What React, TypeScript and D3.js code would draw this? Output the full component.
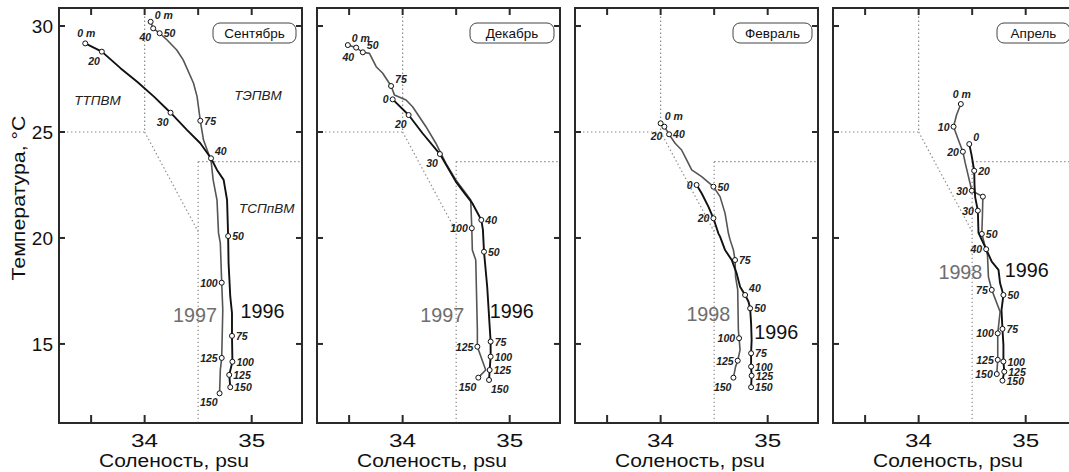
import React from "react";
import * as d3 from "d3";

// [salinity, temperature, depth label, label side]
type Pt = [number, number, string?, string?];

const months = ["Сентябрь", "Декабрь", "Февраль", "Апрель"];
const laterYears = ["1997", "1997", "1998", "1998"];
const baseYear = "1996";

const sep96: Pt[] = [
  [33.445, 29.18, "0 m", "t"], [33.6, 28.79, "20", "bl"], [33.777, 28.0], [33.93, 27.37],
  [34.087, 26.67], [34.242, 25.91, "30", "bl"], [34.397, 25.09], [34.52, 24.47],
  [34.62, 23.76, "40", "tr"], [34.676, 23.21], [34.738, 22.74], [34.77, 21.79],
  [34.78, 20.09, "50", "r"], [34.784, 18.82], [34.8, 17.23], [34.816, 16.46],
  [34.816, 15.38, "75", "r"], [34.82, 14.16, "100", "r"], [34.79, 13.54, "125", "r"],
  [34.8, 12.96, "150", "r"],
];
const sep97: Pt[] = [
  [34.056, 30.2, "0 m", "tr"], [34.08, 29.89, "40", "bl"], [34.14, 29.66, "50", "r"],
  [34.21, 29.34], [34.3, 28.87], [34.36, 28.4], [34.456, 27.31], [34.49, 26.67],
  [34.52, 25.53, "75", "r"], [34.55, 24.62], [34.595, 24.0], [34.62, 23.68],
  [34.64, 22.74], [34.676, 21.79], [34.69, 20.24], [34.707, 19.76],
  [34.72, 17.89, "100", "l"], [34.73, 16.6], [34.72, 14.34, "125", "l"], [34.707, 13.77],
  [34.7, 12.67, "150", "bl"],
];
const dec96: Pt[] = [
  [33.907, 26.54, "0", "l"], [34.056, 25.8, "20", "bl"], [34.186, 24.94],
  [34.348, 23.96, "30", "bl"], [34.497, 22.66], [34.59, 22.03], [34.651, 21.64],
  [34.735, 20.85, "40", "r"], [34.75, 20.38], [34.76, 19.35, "50", "r"], [34.79, 17.7],
  [34.813, 15.82], [34.822, 15.11, "75", "r"], [34.822, 14.4, "100", "r"],
  [34.813, 13.77, "125", "r"], [34.807, 13.3, "150", "br"],
];
const dec97: Pt[] = [
  [33.488, 29.1, "0 m", "tr"], [33.566, 28.98, "40", "bl"], [33.628, 28.76, "50", "tr"],
  [33.69, 28.71], [33.753, 28.08], [33.814, 27.77], [33.892, 27.17, "75", "tr"],
  [33.923, 26.75], [34.032, 26.51], [34.093, 26.19], [34.218, 25.25], [34.31, 24.47],
  [34.404, 23.52], [34.497, 22.74], [34.59, 22.11], [34.636, 21.79],
  [34.646, 20.46, "100", "l"], [34.651, 19.43], [34.683, 18.96], [34.698, 15.66],
  [34.698, 14.87, "125", "l"], [34.776, 13.77], [34.707, 13.41, "150", "bl"],
];
const feb96: Pt[] = [
  [34.336, 22.5, "0", "l"], [34.383, 22.11], [34.446, 21.48], [34.493, 20.93, "20", "l"],
  [34.539, 20.22], [34.555, 20.06], [34.602, 19.43], [34.664, 18.96], [34.71, 18.33],
  [34.742, 17.7], [34.789, 17.31, "40", "tr"], [34.82, 17.0], [34.836, 16.68, "50", "r"],
  [34.845, 15.98], [34.85, 15.19], [34.845, 14.56, "75", "r"], [34.845, 13.93, "100", "r"],
  [34.85, 13.5, "125", "r"], [34.845, 12.96, "150", "r"],
];
const feb98: Pt[] = [
  [34.0, 25.41, "0 m", "tr"], [34.035, 25.25, "20", "bl"], [34.079, 24.89, "40", "r"],
  [34.135, 24.47], [34.196, 24.15], [34.243, 23.68], [34.29, 23.21], [34.383, 22.89],
  [34.493, 22.42, "50", "r"], [34.555, 21.95], [34.602, 21.16], [34.633, 20.22],
  [34.649, 19.91], [34.68, 19.43], [34.695, 18.96, "75", "r"], [34.7, 18.17],
  [34.72, 17.55], [34.726, 15.66], [34.733, 15.27, "100", "l"], [34.742, 14.72],
  [34.72, 14.21, "125", "l"], [34.7, 13.93], [34.68, 13.41, "150", "bl"],
];
const apr96: Pt[] = [
  [34.473, 24.43, "0", "tr"], [34.494, 23.92], [34.519, 23.17, "20", "r"], [34.522, 22.5],
  [34.528, 21.93], [34.553, 21.29, "30", "l"], [34.559, 20.24], [34.631, 19.47, "40", "l"],
  [34.683, 18.88], [34.746, 18.49], [34.761, 17.86], [34.792, 17.31, "50", "r"],
  [34.774, 16.6], [34.783, 15.71, "75", "r"], [34.792, 14.95], [34.792, 14.17, "100", "r"],
  [34.8, 13.69, "125", "r"], [34.783, 13.27, "150", "r"],
];
const apr98: Pt[] = [
  [34.394, 26.32, "0 m", "t"], [34.354, 25.8], [34.326, 25.25, "10", "l"], [34.382, 24.48],
  [34.413, 24.07, "20", "l"], [34.435, 23.54], [34.466, 22.88], [34.497, 22.23, "30", "l"],
  [34.6, 21.95, ""], [34.596, 21.08], [34.59, 20.19, "50", "r"], [34.643, 19.2],
  [34.652, 18.16], [34.683, 17.55, "75", "l"], [34.761, 16.52], [34.739, 15.5, "100", "l"],
  [34.739, 14.25, "125", "l"], [34.73, 13.58, "150", "l"],
];

const baseSeries = [sep96, dec96, feb96, apr96];
const laterSeries = [sep97, dec97, feb98, apr98];
// where the year names sit, in salinity / temperature units
const laterYearAt = [[34.47, 16.37], [34.37, 16.37], [34.446, 16.45], [34.39, 18.41]];
const baseYearAt = [[35.1, 16.56], [35.02, 16.57], [35.08, 15.58], [35.01, 18.52]];
const waterMasses: [string, number, number][] = [
  ["ТТПВМ", 33.56, 26.5], ["ТЭПВМ", 35.06, 26.75], ["ТСПпВМ", 35.14, 21.41],
];
const tempTicks = [15, 20, 25, 30];
const salTicksTop = [33.5, 34, 34.5, 35];
const salTicksBottom = [33.5, 34, 35];
const salLabels = [34, 35];

const W = 1069;
const H = 472;
const panelLeft = [59, 317, 575, 833];
const panelW = 243;
const top = 8;
const bottom = 423;
const boxW = [83, 84, 79, 73];
const font = "'Liberation Sans', Arial, sans-serif";
const dark = "#111";
const grey = "#555";

const y = d3.scaleLinear().domain([11.27, 30.85]).range([bottom, top]);

const place: Record<string, { dx: number; dy: number; anchor: string }> = {
  t: { dx: 1, dy: -6, anchor: "middle" },
  tr: { dx: 4, dy: -3, anchor: "start" },
  r: { dx: 4, dy: 4, anchor: "start" },
  l: { dx: -4, dy: 4, anchor: "end" },
  bl: { dx: -2, dy: 13, anchor: "end" },
  br: { dx: 2, dy: 13, anchor: "start" },
};

const Profile = ({ pts, x, color, width }: any) => {
  const line = d3
    .line<Pt>()
    .x((d) => x(d[0]))
    .y((d) => y(d[1]));
  return (
    <g>
      <path d={line(pts) || ""} fill="none" stroke={color} strokeWidth={width} strokeLinejoin="round" />
      {pts
        .filter((d: Pt) => d[2] !== undefined)
        .map((d: Pt, i: number) => {
          const p = place[d[3] || "r"];
          return (
            <g key={i}>
              <circle cx={x(d[0])} cy={y(d[1])} r={2.5} fill="#fff" stroke={dark} strokeWidth={1} />
              {d[2] ? (
                <text
                  x={x(d[0]) + p.dx}
                  y={y(d[1]) + p.dy}
                  textAnchor={p.anchor}
                  fontSize={10.5}
                  fontStyle="italic"
                  fontWeight="bold"
                  fill="#222"
                >
                  {d[2]}
                </text>
              ) : null}
            </g>
          );
        })}
    </g>
  );
};

const Panel = ({ i }: { i: number }) => {
  const L = panelLeft[i];
  const R = L + panelW;
  const x = d3.scaleLinear().domain([33.2, 35.47]).range([L, R]);
  const dot = { stroke: "#8a8a8a", strokeWidth: 1.2, strokeDasharray: "1.4 2.6", fill: "none" };
  return (
    <g>
      {/* water mass boundaries */}
      <line x1={x(34)} x2={x(34)} y1={y(30.45)} y2={y(25)} {...dot} />
      <line x1={L} x2={x(34)} y1={y(25)} y2={y(25)} {...dot} />
      <line x1={x(34)} x2={x(34.5)} y1={y(25)} y2={y(20.3)} {...dot} />
      <line x1={x(34.5)} x2={x(34.5)} y1={y(23.6)} y2={bottom} {...dot} />
      <line x1={x(34.5)} x2={R} y1={y(23.6)} y2={y(23.6)} {...dot} />

      <Profile pts={laterSeries[i]} x={x} color={grey} width={1.6} />
      <Profile pts={baseSeries[i]} x={x} color={dark} width={1.9} />

      <text
        x={x(laterYearAt[i][0])}
        y={y(laterYearAt[i][1])}
        dy="0.36em"
        textAnchor="middle"
        fontSize={21}
        fill="#6e6e6e"
        textLength={44}
        lengthAdjust="spacingAndGlyphs"
      >
        {laterYears[i]}
      </text>
      <text
        x={x(baseYearAt[i][0])}
        y={y(baseYearAt[i][1])}
        dy="0.36em"
        textAnchor="middle"
        fontSize={21}
        fill={dark}
        textLength={44}
        lengthAdjust="spacingAndGlyphs"
      >
        {baseYear}
      </text>

      {i === 0 &&
        waterMasses.map((m) => (
          <text
            key={m[0]}
            x={x(m[1])}
            y={y(m[2])}
            dy="0.36em"
            textAnchor="middle"
            fontSize={13.5}
            fontStyle="italic"
            fill="#222"
          >
            {m[0]}
          </text>
        ))}

      {/* month box */}
      <rect x={R - 6 - boxW[i]} y={23} width={boxW[i]} height={20} rx={7} fill="#fff" stroke="#444" strokeWidth={1} />
      <text x={R - 6 - boxW[i] / 2} y={38} textAnchor="middle" fontSize={13.5} fill={dark}>
        {months[i]}
      </text>

      {/* frame and ticks */}
      <rect x={L} y={top} width={panelW} height={bottom - top} fill="none" stroke="#2a2a2a" strokeWidth={2} />
      {salTicksTop.map((t) => (
        <line key={"t" + t} x1={x(t)} x2={x(t)} y1={top} y2={top + 7} stroke="#2a2a2a" strokeWidth={2} />
      ))}
      {salTicksBottom.map((t) => (
        <line key={"b" + t} x1={x(t)} x2={x(t)} y1={bottom} y2={bottom - 8} stroke="#2a2a2a" strokeWidth={2} />
      ))}
      {tempTicks.map((t) => (
        <g key={"y" + t}>
          <line x1={L} x2={L + 6} y1={y(t)} y2={y(t)} stroke="#2a2a2a" strokeWidth={2} />
          <line x1={R} x2={R - 6} y1={y(t)} y2={y(t)} stroke="#2a2a2a" strokeWidth={2} />
        </g>
      ))}
      {i === 0 &&
        tempTicks.map((t) => (
          <text key={"yl" + t} x={L - 6} y={y(t)} dy="0.36em" textAnchor="end" fontSize={19} fill={dark}>
            {t}
          </text>
        ))}
      {salLabels.map((t) => (
        <text
          key={"xl" + t}
          x={x(t)}
          y={447}
          textAnchor="middle"
          fontSize={18}
          fill={dark}
          textLength={27}
          lengthAdjust="spacingAndGlyphs"
        >
          {t}
        </text>
      ))}
      <text
        x={L + 115}
        y={467}
        textAnchor="middle"
        fontSize={18}
        fill={dark}
        textLength={150}
        lengthAdjust="spacingAndGlyphs"
      >
        Соленость, psu
      </text>
    </g>
  );
};

export default function App() {
  return (
    <svg
      width={W}
      height={H}
      style={{ position: "absolute", left: 0, top: 0, background: "#fff" }}
      fontFamily={font}
    >
      <rect width={W} height={H} fill="#fff" />
      {months.map((m, i) => (
        <Panel key={m} i={i} />
      ))}
      <text
        transform={`translate(25,198) rotate(-90)`}
        textAnchor="middle"
        fontSize={19}
        fill={dark}
        textLength={165}
        lengthAdjust="spacingAndGlyphs"
      >
        Температура, °C
      </text>
    </svg>
  );
}
